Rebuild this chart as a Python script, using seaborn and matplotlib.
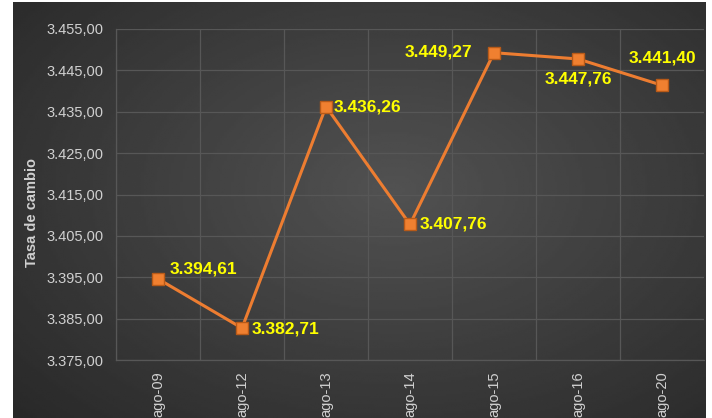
import numpy as np
import pandas as pd
import matplotlib
matplotlib.use("Agg")
import matplotlib.pyplot as plt
import seaborn as sns
from matplotlib.ticker import FuncFormatter

fechas = ['ago-09', 'ago-12', 'ago-13', 'ago-14', 'ago-15', 'ago-16', 'ago-20']
tasas = [3394.61, 3382.71, 3436.26, 3407.76, 3449.27, 3447.76, 3441.40]
etiquetas = ['3.394,61', '3.382,71', '3.436,26', '3.407,76', '3.449,27', '3.447,76', '3.441,40']
y_ticks = [3375, 3385, 3395, 3405, 3415, 3425, 3435, 3445, 3455]

# offsets (pixels) and alignment for each data label
offsets = [(12, 10, 'left'), (10, -1, 'left'), (8, 0, 'left'), (10, 0, 'left'),
           (-22, 1, 'right'), (0, -20, 'center'), (0, 27, 'center')]

sns.set_theme(style='dark')
plt.rcParams['font.family'] = ['Liberation Sans', 'DejaVu Sans']

fig = plt.figure(figsize=(7.12, 4.18), dpi=100)
fig.patch.set_facecolor('white')

# dark gradient background panel
bg = fig.add_axes([13 / 712, 0, (706 - 13) / 712, 1 - 2 / 418])
yy, xx = np.mgrid[0:1:200j, 0:1:300j]
dist = np.sqrt(((xx - 0.55) / 0.75) ** 2 + ((yy - 0.45) / 0.8) ** 2)
grad = np.clip(1 - dist, 0, 1)
bg.imshow(0.16 + 0.16 * grad, cmap='gray', vmin=0, vmax=1, aspect='auto',
          extent=[0, 1, 0, 1], origin='upper')
bg.set_axis_off()

ax = fig.add_axes([116 / 712, 1 - 360 / 418, (704 - 116) / 712, (360 - 29) / 418])
ax.set_facecolor('none')

df = pd.DataFrame({'fecha': fechas, 'tasa': tasas})
sns.lineplot(data=df, x='fecha', y='tasa', ax=ax, sort=False, color='#ED7D31',
             linewidth=2.2, marker='s', markersize=9, markerfacecolor='#F08030',
             markeredgecolor='#B85A18', markeredgewidth=1.0, zorder=3)

ax.set_xlim(-0.5, len(fechas) - 0.5)
ax.set_ylim(3375, 3455)
ax.set_yticks(y_ticks)
ax.yaxis.set_major_formatter(FuncFormatter(
    lambda v, p: f"{v:,.2f}".replace(',', 'X').replace('.', ',').replace('X', '.')))
ax.set_xticks(np.arange(len(fechas)) - 0.5, minor=False)
ax.set_xticks(np.arange(len(fechas)), minor=True)
ax.set_xticklabels([])
ax.set_xticklabels(fechas, minor=True, rotation=90, color='#d0d0d0', fontsize=10.5)
ax.tick_params(axis='x', which='both', length=0, pad=8)
ax.tick_params(axis='y', length=0, labelcolor='#d0d0d0', labelsize=10.5, pad=9)

ax.grid(True, which='major', color='#575757', linewidth=0.9)
ax.grid(False, which='minor')
for s in ['top', 'right']:
    ax.spines[s].set_visible(False)
for s in ['left', 'bottom']:
    ax.spines[s].set_color('#575757')
    ax.spines[s].set_linewidth(0.9)

ax.set_xlabel('')
ax.set_ylabel('Tasa de cambio', color='#d0d0d0', fontsize=10.5, fontweight='bold')
ax.yaxis.set_label_coords(-0.131, 0.447)

for i, (t, lab) in enumerate(zip(tasas, etiquetas)):
    dx, dy, ha = offsets[i]
    ax.annotate(lab, (i, t), xytext=(dx * 0.72, dy * 0.72), textcoords='offset points',
                ha=ha, va='center', color='#FFFF00', fontsize=12.5, fontweight='bold', zorder=4)

fig.savefig('out.png', dpi=100)
